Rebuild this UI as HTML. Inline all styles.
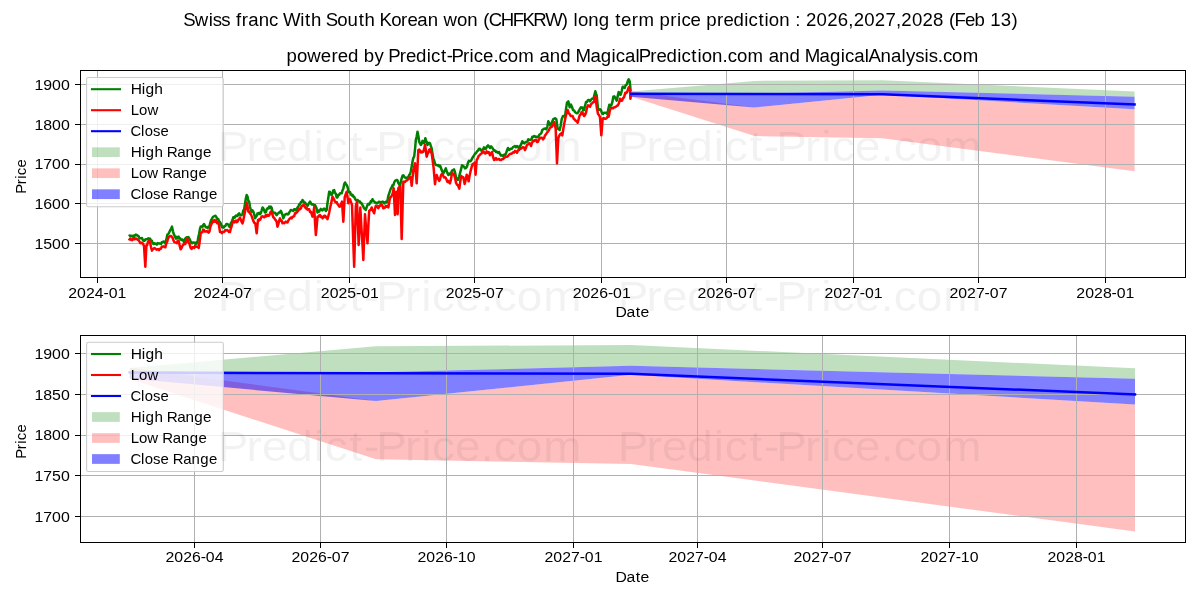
<!DOCTYPE html><html><head><meta charset="utf-8"><style>html,body{margin:0;padding:0;background:#fff;}svg{display:block;will-change:transform;}text{font-family:"Liberation Sans",sans-serif;}</style></head><body>
<svg width="1200" height="600" viewBox="0 0 1200 600">
<rect width="1200" height="600" fill="#fff"/>
<text transform="translate(184.21 25.70) scale(1.0534 1)" x="-0.87 10.12 23.20 27.06 35.29 43.88 49.18 54.72 60.84 70.70 80.55 89.36 93.81 110.19 114.65 120.30 130.28 134.37 145.20 155.05 165.61 171.26 181.24 185.50 196.50 205.76 211.91 221.26 231.12 241.09 246.15 258.91 268.76 278.73 283.84 289.01 300.47 311.94 321.18 331.36 342.71 358.36 364.44 369.64 373.73 383.57 393.60 403.58 409.19 414.70 424.78 431.32 446.15 451.22 461.46 467.88 471.97 480.68 490.51 495.58 505.82 511.96 521.49 531.65 535.74 545.15 550.93 555.02 564.86 574.84 580.01 585.19 590.27 600.33 610.38 620.44 630.44 635.52 645.58 655.63 665.69 675.69 680.77 690.83 700.88 710.94 720.94 726.04 731.22 741.11 750.13 760.11 765.20 775.25 785.34" y="0" font-size="17.67" fill="#000" >Swiss franc With South Korean won (CHFKRW) long term price prediction : 2026,2027,2028 (Feb 13)</text>
<text transform="translate(286.47 61.50) scale(1.0545 1)" x="0.10 9.94 19.77 32.54 42.62 48.75 58.27 68.25 73.31 83.49 92.63 96.47 107.42 113.28 122.80 132.95 137.03 146.43 151.89 156.55 167.50 173.64 177.72 186.43 196.25 201.14 209.81 219.89 234.99 239.88 249.72 259.73 269.71 274.13 288.22 298.07 308.23 312.31 320.99 330.97 334.00 344.95 350.81 360.33 370.48 374.56 383.96 389.74 393.81 403.65 413.62 418.50 427.18 437.26 452.36 457.25 467.09 477.10 487.08 491.50 505.59 515.44 525.59 529.67 538.36 548.34 552.00 563.39 573.23 583.21 587.62 596.40 605.16 609.02 617.60 622.49 631.16 641.24" y="0" font-size="17.67" fill="#000" >powered by Predict-Price.com and MagicalPrediction.com and MagicalAnalysis.com</text>
<polygon points="631.23,91.47 754.55,80.89 882.23,80.25 1134.57,91.62 1134.57,96.74 882.23,90.40 754.55,93.57 631.23,93.18" fill="#008000" fill-opacity="0.25"/>
<polygon points="631.23,91.32 754.55,107.56 882.23,94.79 1134.57,109.27 1134.57,171.21 882.23,138.29 754.55,136.00 631.23,96.79" fill="#ff0000" fill-opacity="0.25"/>
<polygon points="631.23,93.18 754.55,93.57 882.23,90.40 1134.57,96.74 1134.57,109.27 882.23,94.79 754.55,107.56 631.23,96.64" fill="#0000ff" fill-opacity="0.5"/>
<line x1="80" y1="243.5" x2="1186" y2="243.5" stroke="#b0b0b0" stroke-width="1.0"/>
<line x1="80" y1="203.5" x2="1186" y2="203.5" stroke="#b0b0b0" stroke-width="1.0"/>
<line x1="80" y1="164.5" x2="1186" y2="164.5" stroke="#b0b0b0" stroke-width="1.0"/>
<line x1="80" y1="124.5" x2="1186" y2="124.5" stroke="#b0b0b0" stroke-width="1.0"/>
<line x1="80" y1="84.5" x2="1186" y2="84.5" stroke="#b0b0b0" stroke-width="1.0"/>
<line x1="97.5" y1="70" x2="97.5" y2="278" stroke="#b0b0b0" stroke-width="1.0"/>
<line x1="222.5" y1="70" x2="222.5" y2="278" stroke="#b0b0b0" stroke-width="1.0"/>
<line x1="349.5" y1="70" x2="349.5" y2="278" stroke="#b0b0b0" stroke-width="1.0"/>
<line x1="474.5" y1="70" x2="474.5" y2="278" stroke="#b0b0b0" stroke-width="1.0"/>
<line x1="601.5" y1="70" x2="601.5" y2="278" stroke="#b0b0b0" stroke-width="1.0"/>
<line x1="726.5" y1="70" x2="726.5" y2="278" stroke="#b0b0b0" stroke-width="1.0"/>
<line x1="853.5" y1="70" x2="853.5" y2="278" stroke="#b0b0b0" stroke-width="1.0"/>
<line x1="978.5" y1="70" x2="978.5" y2="278" stroke="#b0b0b0" stroke-width="1.0"/>
<line x1="1105.5" y1="70" x2="1105.5" y2="278" stroke="#b0b0b0" stroke-width="1.0"/>
<polyline points="128.67,236.00 129.56,235.45 130.44,236.21 131.33,235.73 132.22,236.36 133.11,235.65 134.00,237.33 134.89,235.33 135.78,234.61 136.67,234.93 137.56,235.76 138.44,236.00 139.33,238.00 140.22,238.33 141.11,238.20 142.00,238.00 142.89,240.13 143.78,240.71 144.67,240.67 145.56,239.30 146.44,239.28 147.33,239.33 148.22,238.28 149.11,239.25 150.00,238.67 150.89,240.35 151.78,240.63 152.67,243.33 153.50,243.97 154.33,243.18 155.17,243.71 156.00,244.00 156.83,244.60 157.67,243.00 158.50,243.57 159.33,243.33 160.17,243.60 161.00,243.92 161.83,242.12 162.67,242.00 163.56,241.54 164.44,241.69 165.33,243.33 166.33,239.69 167.33,234.67 168.22,234.31 169.11,232.51 170.00,230.67 171.00,228.87 172.00,226.67 173.00,231.55 174.00,234.67 175.00,236.60 176.00,238.67 176.89,236.86 177.78,237.72 178.67,236.67 179.56,238.61 180.44,238.59 181.33,240.00 182.22,239.43 183.11,240.47 184.00,242.00 184.89,239.30 185.78,237.93 186.67,237.33 187.56,237.49 188.44,237.13 189.33,238.67 190.22,240.35 191.11,242.61 192.00,243.33 192.89,242.54 193.78,242.52 194.67,242.67 195.56,244.08 196.44,242.27 197.33,243.33 198.22,237.75 199.11,233.79 200.00,228.67 200.80,226.44 201.60,226.46 202.40,227.04 203.20,224.97 204.00,224.00 204.89,225.57 205.78,227.26 206.67,227.33 207.56,228.08 208.44,226.61 209.33,226.67 210.22,222.97 211.11,220.20 212.00,218.67 212.89,217.02 213.78,216.47 214.67,216.00 215.56,215.81 216.44,217.19 217.33,219.33 218.22,218.99 219.11,221.41 220.00,222.00 221.00,224.02 222.00,227.33 222.83,226.65 223.67,227.57 224.50,226.24 225.33,226.00 226.33,223.92 227.33,224.00 228.22,224.48 229.11,226.63 230.00,226.67 230.83,223.09 231.67,222.07 232.50,219.78 233.33,217.33 234.03,217.16 234.72,217.78 235.42,215.96 236.11,215.47 236.81,216.17 237.50,215.83 238.33,214.14 239.17,213.33 240.00,214.70 240.83,215.36 241.67,215.00 242.50,213.88 243.33,210.40 244.17,209.17 245.00,204.07 245.83,198.49 246.67,195.00 247.50,196.60 248.33,200.63 249.17,201.67 250.00,206.97 250.83,210.00 251.67,211.74 252.50,210.38 253.33,211.67 254.17,214.21 255.00,218.33 255.83,216.99 256.67,215.89 257.50,213.33 258.33,214.01 259.17,212.81 260.00,214.17 260.83,213.01 261.67,210.37 262.50,207.50 263.33,208.33 264.17,210.40 265.00,212.50 265.83,212.34 266.67,209.47 267.50,208.33 268.33,208.50 269.17,206.53 270.00,208.14 270.83,206.67 271.67,207.69 272.50,211.80 273.33,212.50 274.17,212.67 275.00,212.65 275.83,214.17 276.67,215.11 277.50,213.68 278.33,213.33 279.17,212.33 280.00,212.51 280.83,210.83 281.67,212.69 282.50,215.16 283.33,218.33 284.17,216.32 285.00,214.60 285.83,214.17 286.67,213.79 287.50,214.38 288.33,214.17 289.17,212.57 290.00,211.39 290.83,210.00 291.67,210.34 292.50,210.40 293.33,210.83 294.17,209.13 295.00,209.15 295.83,210.17 296.67,209.17 297.50,207.46 298.33,206.81 299.17,204.39 300.00,204.17 300.83,202.12 301.67,202.10 302.50,200.00 303.33,200.99 304.17,202.74 305.00,202.50 305.83,203.90 306.67,204.75 307.50,205.83 308.33,204.32 309.17,203.00 310.00,201.67 310.83,203.02 311.67,204.48 312.50,204.17 313.33,204.60 314.17,205.61 315.00,205.00 315.83,206.52 316.67,208.89 317.50,212.50 318.33,210.56 319.17,211.57 320.00,210.00 320.83,208.89 321.67,210.00 322.50,210.37 323.33,209.17 324.17,208.65 325.00,209.32 325.83,211.07 326.67,210.00 327.50,203.01 328.33,197.82 329.17,191.67 330.00,191.99 330.83,194.47 331.67,195.00 332.50,193.47 333.33,190.41 334.17,190.00 335.00,192.82 335.83,193.87 336.67,197.50 337.50,197.42 338.33,194.81 339.17,195.00 340.00,193.25 340.83,193.29 341.67,193.33 342.50,190.42 343.33,188.75 344.17,184.30 345.00,182.50 345.83,183.93 346.67,185.00 347.50,186.85 348.33,190.83 349.17,192.43 350.00,191.94 350.83,194.17 351.67,195.35 352.50,194.75 353.33,196.67 354.17,196.65 355.00,198.77 355.83,200.00 356.67,200.42 357.50,199.95 358.33,200.83 359.17,201.74 360.00,201.48 360.83,203.33 361.67,203.28 362.50,205.07 363.33,206.67 364.17,208.45 365.00,208.89 365.83,210.00 366.67,207.10 367.50,205.00 368.33,203.80 369.17,204.49 370.00,203.33 370.83,201.14 371.67,201.69 372.50,199.17 373.33,201.11 374.17,201.38 375.00,202.50 375.83,202.50 376.67,203.54 377.50,203.33 378.33,202.09 379.17,201.67 380.00,202.48 380.83,201.97 381.67,202.50 382.50,201.62 383.33,201.94 384.17,203.33 385.00,202.42 385.83,201.70 386.67,202.50 387.50,200.41 388.33,195.82 389.17,193.33 390.00,190.85 390.83,188.55 391.67,187.50 392.50,185.22 393.33,185.40 394.17,182.50 395.00,181.00 395.83,180.34 396.67,180.00 397.50,180.37 398.33,183.27 399.17,184.22 400.00,186.67 400.83,181.77 401.67,178.38 402.50,175.83 403.33,175.20 404.17,176.44 405.00,177.50 405.83,177.72 406.67,178.15 407.50,177.50 408.33,176.95 409.17,174.99 410.00,174.17 410.83,171.26 411.67,166.42 412.50,161.67 413.33,157.98 414.17,156.67 415.00,149.35 415.83,140.00 416.67,136.44 417.50,131.67 418.33,135.73 419.17,141.67 420.00,143.34 420.83,145.00 421.67,143.71 422.50,140.83 423.33,142.30 424.17,143.33 425.33,138.33 426.06,141.03 426.78,142.08 427.50,145.00 428.33,143.49 429.17,142.86 430.00,143.33 430.83,145.99 431.67,148.33 432.50,153.66 433.33,158.33 434.17,160.53 435.00,163.55 435.83,165.00 436.67,165.01 437.50,165.41 438.33,165.00 439.17,166.45 440.00,165.56 440.83,167.50 441.67,170.04 442.50,172.01 443.33,173.33 444.17,171.65 445.00,169.95 445.83,168.33 446.67,171.25 447.50,173.15 448.33,175.00 449.17,173.53 450.00,174.52 450.83,173.33 452.00,170.67 453.00,170.18 454.00,169.33 455.00,172.19 456.00,177.33 457.00,179.11 458.00,180.00 459.00,177.12 460.00,173.33 461.00,169.38 462.00,165.33 463.00,165.91 464.00,166.67 465.00,168.36 466.00,168.00 467.00,166.58 468.00,162.67 469.00,160.75 470.00,161.33 471.00,160.83 472.00,158.67 473.00,156.87 474.00,155.33 475.00,153.58 476.00,153.33 477.00,151.25 478.00,150.67 479.00,148.74 480.00,148.67 481.00,150.51 482.00,150.00 483.00,149.50 484.00,147.33 485.00,149.01 486.00,148.67 487.00,146.30 488.00,145.33 489.00,146.63 490.00,148.00 491.00,146.38 492.00,147.33 493.00,148.87 494.00,150.67 495.00,150.40 496.00,152.00 497.00,151.86 498.00,152.67 499.00,152.04 500.00,154.00 501.00,155.55 502.00,155.33 503.00,156.11 504.00,154.67 505.00,155.04 506.00,153.33 507.00,150.33 508.00,148.00 509.00,149.96 510.00,149.33 511.00,148.64 512.00,148.67 513.00,147.08 514.00,146.67 515.00,145.96 516.00,147.33 517.00,146.00 518.00,146.78 519.00,148.67 520.00,146.01 521.00,144.67 522.33,141.33 523.33,142.36 524.33,143.33 525.33,142.34 526.33,142.00 527.33,141.67 528.33,139.33 529.33,140.01 530.33,140.00 531.33,139.48 532.33,136.67 533.33,136.90 534.33,136.00 535.33,136.94 536.33,136.67 537.33,137.32 538.33,136.67 539.33,134.78 540.33,134.00 541.33,133.11 542.33,130.00 543.33,129.26 544.33,128.67 545.33,128.47 546.33,129.33 547.33,126.57 548.33,121.33 549.33,123.74 550.33,125.33 551.33,123.48 552.33,121.33 553.33,119.14 554.33,118.67 555.33,118.24 556.33,119.33 557.67,128.67 558.67,129.33 559.67,130.00 560.67,125.72 561.67,119.33 563.00,116.00 564.00,116.20 565.00,116.67 566.00,108.87 567.00,102.67 568.33,101.33 569.67,107.33 571.00,104.67 572.00,106.92 573.00,110.00 574.00,110.32 575.00,112.00 576.00,112.85 577.00,113.33 578.00,112.65 579.00,110.67 580.00,108.78 581.00,107.33 581.75,107.68 582.50,107.53 583.25,110.55 584.00,110.00 585.00,106.01 586.00,102.00 587.00,101.94 588.00,100.00 589.00,100.07 590.00,101.33 591.00,99.74 592.00,98.67 593.00,98.85 594.00,96.67 595.33,91.33 596.67,95.33 598.00,108.67 599.00,109.97 600.00,109.33 601.00,110.12 602.00,113.33 603.00,114.03 604.00,112.67 605.00,112.89 606.00,112.67 607.33,114.00 608.33,109.05 609.33,104.67 610.33,105.85 611.33,105.33 612.33,102.23 613.33,96.67 614.33,96.32 615.33,98.00 616.67,100.67 617.67,96.39 618.67,92.00 619.67,94.48 620.67,94.67 621.67,91.05 622.67,86.67 623.67,87.22 624.67,88.00 625.67,85.14 626.67,84.67 627.67,81.30 628.67,79.33 629.73,81.33 630.67,91.33" fill="none" stroke="#008000" stroke-width="2.5" stroke-linejoin="round" stroke-linecap="butt"/>
<polyline points="128.67,238.67 129.56,239.49 130.44,238.59 131.33,240.00 132.22,240.13 133.11,238.55 134.00,239.33 134.89,239.17 135.78,238.60 136.67,238.67 137.56,239.82 138.44,239.93 139.33,241.33 140.22,242.97 141.11,243.22 142.00,242.67 143.00,243.64 144.00,246.00 145.33,266.67 146.40,245.33 147.13,245.20 147.87,242.17 148.60,241.33 149.33,240.00 150.22,243.35 151.11,247.55 152.00,250.67 152.89,249.07 153.78,248.47 154.67,248.00 155.56,248.92 156.44,249.66 157.33,249.33 158.22,249.12 159.11,250.11 160.00,248.67 160.89,248.83 161.78,246.61 162.67,246.67 163.56,246.36 164.44,247.10 165.33,247.33 166.22,243.73 167.11,241.99 168.00,238.67 168.89,236.86 169.78,236.14 170.67,236.00 171.56,236.40 172.44,237.52 173.33,240.00 174.22,241.92 175.11,242.38 176.00,242.67 176.89,243.12 177.78,240.52 178.67,240.67 179.67,245.64 180.67,249.33 181.67,247.76 182.67,245.33 183.56,244.56 184.44,243.58 185.33,244.00 186.33,240.76 187.33,238.67 188.33,242.18 189.33,243.33 190.67,248.00 191.56,248.98 192.44,247.18 193.33,247.33 194.22,247.95 195.11,245.72 196.00,246.67 196.89,246.78 197.78,246.76 198.67,248.00 199.67,241.70 200.67,233.33 201.50,232.27 202.33,232.36 203.17,229.62 204.00,230.00 204.89,231.54 205.78,231.53 206.67,231.33 207.67,231.58 208.67,232.67 209.50,231.36 210.33,227.05 211.17,224.69 212.00,222.67 212.89,220.49 213.78,221.97 214.67,220.00 215.47,221.82 216.27,220.64 217.07,223.19 217.87,222.37 218.67,223.33 220.00,232.00 220.89,231.82 221.78,233.11 222.67,232.00 223.56,232.12 224.44,231.51 225.33,230.00 226.22,230.50 227.11,229.98 228.00,230.67 229.00,232.07 230.00,232.00 230.83,228.55 231.67,226.01 232.50,222.79 233.33,221.33 234.03,220.94 234.72,222.44 235.42,220.89 236.11,220.51 236.81,222.16 237.50,221.67 238.33,219.59 239.17,219.20 240.00,217.50 240.83,220.09 241.67,221.82 242.50,223.33 243.33,220.33 244.17,215.73 245.00,211.67 245.83,207.70 246.67,202.50 247.50,206.43 248.33,211.67 249.17,211.60 250.00,213.54 250.83,214.17 251.67,216.12 252.50,218.63 253.33,220.83 254.33,222.89 255.33,223.33 256.67,233.33 258.00,220.00 258.71,220.86 259.42,219.10 260.12,219.64 260.83,218.33 261.67,216.58 262.50,216.23 263.33,216.67 264.17,217.34 265.00,216.67 265.83,215.00 266.67,216.23 267.50,214.93 268.33,215.83 269.17,215.60 270.00,213.31 270.83,211.67 271.67,212.88 272.50,214.62 273.33,217.50 274.17,217.70 275.00,219.56 275.83,220.00 276.67,222.06 277.50,226.67 278.33,224.35 279.17,220.62 280.00,218.33 280.83,220.77 281.67,220.53 282.50,223.33 283.33,222.78 284.17,223.14 285.00,222.50 285.83,221.63 286.67,222.27 287.50,222.50 288.33,220.61 289.17,219.23 290.00,218.33 290.83,217.55 291.67,218.45 292.50,216.73 293.33,216.67 294.17,216.22 295.00,213.30 295.83,213.34 296.67,212.50 297.50,211.42 298.33,210.73 299.17,208.74 300.00,209.17 300.83,208.49 301.67,206.01 302.50,205.71 303.33,205.00 304.17,205.19 305.00,207.28 305.83,208.33 306.67,207.59 307.50,209.68 308.33,209.17 309.17,209.21 310.00,211.99 310.83,211.67 311.67,214.12 312.50,216.67 313.33,213.19 314.17,207.50 315.00,222.30 315.83,235.00 316.67,226.68 317.50,216.67 318.33,216.85 319.17,215.31 320.00,215.00 320.83,216.97 321.67,216.49 322.50,218.33 323.33,217.55 324.17,215.69 325.00,215.83 325.83,217.53 326.67,216.86 327.50,219.17 328.33,216.22 329.17,212.82 330.00,208.33 330.83,204.70 331.67,200.89 332.50,196.67 333.33,198.13 334.17,199.81 335.00,201.67 335.83,202.36 336.67,202.09 337.50,204.14 338.33,205.00 339.17,206.52 340.00,206.67 341.00,204.06 342.00,201.67 343.33,221.67 344.67,197.50 345.67,194.51 346.67,191.67 347.50,196.53 348.33,203.33 349.17,200.19 350.00,199.17 351.00,202.11 352.00,205.00 352.72,225.91 353.44,246.72 354.17,266.67 355.00,236.28 355.83,205.83 357.00,201.67 357.83,223.34 358.67,245.00 359.50,227.42 360.33,207.50 361.08,221.55 361.83,234.35 362.58,246.08 363.33,260.00 364.17,237.06 365.00,214.17 365.83,224.97 366.67,234.36 367.50,243.33 368.33,225.95 369.17,210.83 370.00,210.39 370.83,209.64 371.67,207.50 372.50,210.27 373.33,211.39 374.17,213.33 375.00,208.82 375.83,205.83 376.67,206.68 377.50,206.30 378.33,208.33 379.17,206.06 380.00,206.02 380.83,204.17 381.67,204.69 382.50,205.94 383.33,208.33 384.17,207.85 385.00,207.64 385.83,205.83 386.67,206.60 387.50,205.92 388.33,207.50 389.17,202.84 390.00,197.50 391.00,197.02 392.00,195.00 392.83,192.94 393.67,188.33 395.00,215.00 396.33,191.67 397.67,214.17 398.33,188.33 399.33,187.14 400.33,186.67 401.67,239.00 402.50,210.18 403.33,181.67 404.17,182.02 405.00,181.94 405.83,180.83 406.67,180.64 407.50,179.95 408.33,179.17 409.17,178.12 410.00,176.84 410.83,177.50 411.67,185.83 412.50,178.22 413.33,170.00 414.17,166.70 415.00,163.33 415.83,172.38 416.67,183.33 417.50,167.06 418.33,150.00 419.17,149.54 420.00,150.64 420.83,152.50 421.67,151.51 422.50,152.18 423.33,151.67 424.17,148.66 425.00,145.00 425.83,149.88 426.67,156.67 427.50,153.92 428.33,152.50 429.17,149.78 430.00,149.17 430.83,152.22 431.67,153.33 432.67,160.58 433.67,168.33 435.00,184.17 435.83,178.31 436.67,175.00 437.50,177.11 438.33,179.27 439.17,180.83 440.00,179.75 440.83,175.73 441.67,174.17 442.50,174.09 443.33,176.14 444.17,177.50 445.00,177.19 445.83,177.90 446.67,180.00 447.50,181.98 448.33,180.89 449.17,182.52 450.00,183.33 451.00,179.15 452.00,173.33 453.00,173.50 454.00,174.67 455.00,177.49 456.00,182.67 457.00,184.74 458.00,185.33 459.33,188.67 460.33,181.05 461.33,176.00 462.33,177.30 463.33,177.33 464.67,184.00 465.67,179.96 466.67,174.67 467.67,177.29 468.67,181.33 469.67,175.30 470.67,170.67 471.67,166.91 472.67,164.00 473.67,163.84 474.67,162.67 475.60,174.67 476.67,160.00 477.67,158.55 478.67,156.00 479.67,155.14 480.67,154.00 481.67,153.42 482.67,151.33 483.67,151.72 484.67,153.33 485.67,153.54 486.67,151.33 487.67,152.65 488.67,152.00 490.00,155.33 491.00,153.04 492.00,152.00 493.00,156.63 494.00,160.00 495.00,159.64 496.00,158.00 497.00,159.66 498.00,159.33 499.00,158.99 500.00,160.00 501.00,160.01 502.00,159.33 503.00,159.10 504.00,158.00 505.00,157.25 506.00,156.67 507.00,156.85 508.00,156.00 509.00,154.84 510.00,154.00 511.00,153.85 512.00,153.33 513.00,152.25 514.00,152.67 515.00,150.90 516.00,151.33 517.00,152.67 518.00,150.41 519.00,150.00 520.00,148.31 521.00,148.67 522.00,147.60 523.00,147.33 524.00,147.44 525.00,150.00 526.00,147.83 527.00,144.67 528.00,144.51 529.00,143.33 530.00,143.54 531.00,146.00 532.00,142.98 533.00,140.67 534.00,141.16 535.00,140.00 536.00,139.87 537.00,142.00 538.00,141.74 539.00,139.33 540.00,137.65 541.00,138.00 542.00,137.66 543.00,139.33 544.00,138.24 545.00,135.33 546.00,134.35 547.00,132.67 548.00,131.68 549.00,130.00 550.00,127.63 551.00,127.33 552.00,126.67 553.00,124.67 554.33,122.00 555.67,128.67 557.00,163.33 558.33,138.00 559.33,135.53 560.33,134.00 561.33,133.42 562.33,135.33 563.33,128.77 564.33,123.33 565.33,118.32 566.33,114.00 567.67,110.00 568.67,113.21 569.67,114.00 570.67,115.91 571.67,116.00 572.67,116.11 573.67,118.67 574.67,119.50 575.67,120.67 576.67,121.27 577.67,122.67 578.67,119.10 579.67,115.33 580.67,114.61 581.67,112.00 582.44,114.16 583.22,113.37 584.00,116.00 585.00,115.02 586.00,112.67 587.00,107.71 588.00,105.33 589.00,105.98 590.00,106.67 591.00,104.18 592.00,103.33 593.00,102.27 594.00,102.00 595.33,96.00 596.67,106.67 598.00,114.00 599.00,115.04 600.00,117.33 601.33,135.33 602.67,118.67 603.67,118.10 604.67,118.67 605.67,118.85 606.67,118.00 607.67,116.32 608.67,116.67 610.00,110.00 611.00,107.91 612.00,108.00 613.00,108.18 614.00,107.33 615.00,107.33 616.00,106.67 617.00,105.74 618.00,105.33 619.00,103.02 620.00,98.67 621.00,100.68 622.00,100.67 623.00,98.24 624.00,97.33 625.33,92.67 626.33,93.04 627.33,91.33 628.67,87.33 630.00,90.00 630.40,98.67 631.33,93.33" fill="none" stroke="#ff0000" stroke-width="2.5" stroke-linejoin="round" stroke-linecap="butt"/>
<polyline points="631.23,93.66 754.55,94.05 882.23,94.27 1134.57,104.39" fill="none" stroke="#0000ff" stroke-width="2.5" stroke-linejoin="round" stroke-linecap="square"/>
<rect x="80.5" y="70.5" width="1105" height="207" fill="none" stroke="#000" stroke-width="1.0"/>
<line x1="75" y1="243.5" x2="80" y2="243.5" stroke="#000" stroke-width="1.0"/>
<text transform="translate(34.42 248.80) scale(1.0817 1)" x="0.00 8.18 16.35 24.53" y="0" font-size="14.72" fill="#000" >1500</text>
<line x1="75" y1="203.5" x2="80" y2="203.5" stroke="#000" stroke-width="1.0"/>
<text transform="translate(34.42 209.05) scale(1.0817 1)" x="0.00 8.18 16.35 24.53" y="0" font-size="14.72" fill="#000" >1600</text>
<line x1="75" y1="164.5" x2="80" y2="164.5" stroke="#000" stroke-width="1.0"/>
<text transform="translate(34.42 169.30) scale(1.0817 1)" x="0.00 8.18 16.35 24.53" y="0" font-size="14.72" fill="#000" >1700</text>
<line x1="75" y1="124.5" x2="80" y2="124.5" stroke="#000" stroke-width="1.0"/>
<text transform="translate(34.42 129.55) scale(1.0817 1)" x="0.00 8.18 16.35 24.53" y="0" font-size="14.72" fill="#000" >1800</text>
<line x1="75" y1="84.5" x2="80" y2="84.5" stroke="#000" stroke-width="1.0"/>
<text transform="translate(34.42 89.80) scale(1.0817 1)" x="0.00 8.18 16.35 24.53" y="0" font-size="14.72" fill="#000" >1900</text>
<line x1="97.5" y1="278" x2="97.5" y2="283" stroke="#000" stroke-width="1.0"/>
<text transform="translate(68.26 297.70) scale(1.0765 1)" x="0.02 8.23 16.45 24.67 32.74 37.54 45.75" y="0" font-size="14.72" fill="#000" >2024-01</text>
<line x1="222.5" y1="278" x2="222.5" y2="283" stroke="#000" stroke-width="1.0"/>
<text transform="translate(193.84 297.70) scale(1.0765 1)" x="0.02 8.23 16.45 24.67 32.74 37.54 45.75" y="0" font-size="14.72" fill="#000" >2024-07</text>
<line x1="349.5" y1="278" x2="349.5" y2="283" stroke="#000" stroke-width="1.0"/>
<text transform="translate(320.80 297.70) scale(1.0765 1)" x="0.02 8.23 16.45 24.67 32.74 37.54 45.75" y="0" font-size="14.72" fill="#000" >2025-01</text>
<line x1="474.5" y1="278" x2="474.5" y2="283" stroke="#000" stroke-width="1.0"/>
<text transform="translate(445.69 297.70) scale(1.0765 1)" x="0.02 8.23 16.45 24.67 32.74 37.54 45.75" y="0" font-size="14.72" fill="#000" >2025-07</text>
<line x1="601.5" y1="278" x2="601.5" y2="283" stroke="#000" stroke-width="1.0"/>
<text transform="translate(572.65 297.70) scale(1.0765 1)" x="0.02 8.23 16.45 24.67 32.74 37.54 45.75" y="0" font-size="14.72" fill="#000" >2026-01</text>
<line x1="726.5" y1="278" x2="726.5" y2="283" stroke="#000" stroke-width="1.0"/>
<text transform="translate(697.54 297.70) scale(1.0765 1)" x="0.02 8.23 16.45 24.67 32.74 37.54 45.75" y="0" font-size="14.72" fill="#000" >2026-07</text>
<line x1="853.5" y1="278" x2="853.5" y2="283" stroke="#000" stroke-width="1.0"/>
<text transform="translate(824.50 297.70) scale(1.0765 1)" x="0.02 8.23 16.45 24.67 32.74 37.54 45.75" y="0" font-size="14.72" fill="#000" >2027-01</text>
<line x1="978.5" y1="278" x2="978.5" y2="283" stroke="#000" stroke-width="1.0"/>
<text transform="translate(949.39 297.70) scale(1.0765 1)" x="0.02 8.23 16.45 24.67 32.74 37.54 45.75" y="0" font-size="14.72" fill="#000" >2027-07</text>
<line x1="1105.5" y1="278" x2="1105.5" y2="283" stroke="#000" stroke-width="1.0"/>
<text transform="translate(1076.35 297.70) scale(1.0765 1)" x="0.02 8.23 16.45 24.67 32.74 37.54 45.75" y="0" font-size="14.72" fill="#000" >2028-01</text>
<text transform="translate(615.89 316.90) scale(1.0699 1)" x="-0.31 9.90 18.47 22.97" y="0" font-size="14.72" fill="#000" >Date</text>
<text transform="translate(25.90 176.00) rotate(-90) translate(-16.95 0) scale(1.0124 1)" x="-0.76 8.65 13.96 17.60 25.18" y="0" font-size="14.72" fill="#000" >Price</text>
<rect x="86.6" y="77.50" width="136.7" height="129.2" rx="1.8" ry="1.8" fill="#fff" fill-opacity="0.8" stroke="#cccccc" stroke-opacity="1" stroke-width="1.11"/>
<line x1="92" y1="89.20" x2="120" y2="89.20" stroke="#008000" stroke-width="2.08" stroke-linecap="square"/>
<text transform="translate(131.10 94.20) scale(1.0567 1)" x="-0.36 10.09 13.63 21.98" y="0" font-size="14.72" fill="#000" >High</text>
<line x1="92" y1="110.20" x2="120" y2="110.20" stroke="#ff0000" stroke-width="2.08" stroke-linecap="square"/>
<text transform="translate(131.10 115.20) scale(1.0150 1)" x="-0.27 7.73 16.06" y="0" font-size="14.72" fill="#000" >Low</text>
<line x1="92" y1="131.20" x2="120" y2="131.20" stroke="#0000ff" stroke-width="2.08" stroke-linecap="square"/>
<text transform="translate(131.10 136.20) scale(1.0075 1)" x="-0.49 9.92 13.60 21.83 29.25" y="0" font-size="14.72" fill="#000" >Close</text>
<rect x="92" y="147.35" width="27.8" height="9.7" fill="#008000" fill-opacity="0.25"/>
<text transform="translate(131.10 157.20) scale(1.0359 1)" x="-0.26 10.32 13.99 22.50 30.93 34.46 44.45 52.52 61.03 69.42" y="0" font-size="14.72" fill="#000" >High Range</text>
<rect x="92" y="168.35" width="27.8" height="9.7" fill="#ff0000" fill-opacity="0.25"/>
<text transform="translate(131.10 178.20) scale(1.0198 1)" x="-0.29 7.67 15.96 26.96 30.60 40.73 48.93 57.57 66.09" y="0" font-size="14.72" fill="#000" >Low Range</text>
<rect x="92" y="189.35" width="27.8" height="9.7" fill="#0000ff" fill-opacity="0.5"/>
<text transform="translate(131.10 199.20) scale(1.0159 1)" x="-0.53 9.82 13.45 21.61 28.98 37.40 41.07 51.23 59.46 68.14 76.69" y="0" font-size="14.72" fill="#000" >Close Range</text>
<polygon points="129.70,368.00 376.00,346.30 631.00,345.00 1135.00,368.30 1135.00,378.80 631.00,365.80 376.00,372.30 129.70,371.50" fill="#008000" fill-opacity="0.25"/>
<polygon points="129.70,367.70 376.00,401.00 631.00,374.80 1135.00,404.50 1135.00,531.50 631.00,464.00 376.00,459.30 129.70,378.90" fill="#ff0000" fill-opacity="0.25"/>
<polygon points="129.70,371.50 376.00,372.30 631.00,365.80 1135.00,378.80 1135.00,404.50 631.00,374.80 376.00,401.00 129.70,378.60" fill="#0000ff" fill-opacity="0.5"/>
<line x1="80" y1="516.5" x2="1186" y2="516.5" stroke="#b0b0b0" stroke-width="1.0"/>
<line x1="80" y1="475.5" x2="1186" y2="475.5" stroke="#b0b0b0" stroke-width="1.0"/>
<line x1="80" y1="435.5" x2="1186" y2="435.5" stroke="#b0b0b0" stroke-width="1.0"/>
<line x1="80" y1="394.5" x2="1186" y2="394.5" stroke="#b0b0b0" stroke-width="1.0"/>
<line x1="80" y1="353.5" x2="1186" y2="353.5" stroke="#b0b0b0" stroke-width="1.0"/>
<line x1="194.5" y1="335" x2="194.5" y2="543" stroke="#b0b0b0" stroke-width="1.0"/>
<line x1="320.5" y1="335" x2="320.5" y2="543" stroke="#b0b0b0" stroke-width="1.0"/>
<line x1="446.5" y1="335" x2="446.5" y2="543" stroke="#b0b0b0" stroke-width="1.0"/>
<line x1="573.5" y1="335" x2="573.5" y2="543" stroke="#b0b0b0" stroke-width="1.0"/>
<line x1="697.5" y1="335" x2="697.5" y2="543" stroke="#b0b0b0" stroke-width="1.0"/>
<line x1="822.5" y1="335" x2="822.5" y2="543" stroke="#b0b0b0" stroke-width="1.0"/>
<line x1="949.5" y1="335" x2="949.5" y2="543" stroke="#b0b0b0" stroke-width="1.0"/>
<line x1="1076.5" y1="335" x2="1076.5" y2="543" stroke="#b0b0b0" stroke-width="1.0"/>
<polyline points="129.70,372.50 376.00,373.30 631.00,373.75 1135.00,394.50" fill="none" stroke="#0000ff" stroke-width="2.5" stroke-linejoin="round" stroke-linecap="square"/>
<rect x="80.5" y="335.5" width="1105" height="207" fill="none" stroke="#000" stroke-width="1.0"/>
<line x1="75" y1="516.5" x2="80" y2="516.5" stroke="#000" stroke-width="1.0"/>
<text transform="translate(34.42 521.80) scale(1.0817 1)" x="0.00 8.18 16.35 24.53" y="0" font-size="14.72" fill="#000" >1700</text>
<line x1="75" y1="475.5" x2="80" y2="475.5" stroke="#000" stroke-width="1.0"/>
<text transform="translate(34.42 481.05) scale(1.0817 1)" x="0.00 8.18 16.35 24.53" y="0" font-size="14.72" fill="#000" >1750</text>
<line x1="75" y1="435.5" x2="80" y2="435.5" stroke="#000" stroke-width="1.0"/>
<text transform="translate(34.42 440.30) scale(1.0817 1)" x="0.00 8.18 16.35 24.53" y="0" font-size="14.72" fill="#000" >1800</text>
<line x1="75" y1="394.5" x2="80" y2="394.5" stroke="#000" stroke-width="1.0"/>
<text transform="translate(34.42 399.55) scale(1.0817 1)" x="0.00 8.18 16.35 24.53" y="0" font-size="14.72" fill="#000" >1850</text>
<line x1="75" y1="353.5" x2="80" y2="353.5" stroke="#000" stroke-width="1.0"/>
<text transform="translate(34.42 358.80) scale(1.0817 1)" x="0.00 8.18 16.35 24.53" y="0" font-size="14.72" fill="#000" >1900</text>
<line x1="194.5" y1="543" x2="194.5" y2="548" stroke="#000" stroke-width="1.0"/>
<text transform="translate(165.46 561.80) scale(1.0765 1)" x="0.02 8.23 16.45 24.67 32.74 37.54 45.75" y="0" font-size="14.72" fill="#000" >2026-04</text>
<line x1="320.5" y1="543" x2="320.5" y2="548" stroke="#000" stroke-width="1.0"/>
<text transform="translate(291.46 561.80) scale(1.0765 1)" x="0.02 8.23 16.45 24.67 32.74 37.54 45.75" y="0" font-size="14.72" fill="#000" >2026-07</text>
<line x1="446.5" y1="543" x2="446.5" y2="548" stroke="#000" stroke-width="1.0"/>
<text transform="translate(417.46 561.80) scale(1.0765 1)" x="0.02 8.23 16.45 24.67 32.74 37.54 45.75" y="0" font-size="14.72" fill="#000" >2026-10</text>
<line x1="573.5" y1="543" x2="573.5" y2="548" stroke="#000" stroke-width="1.0"/>
<text transform="translate(544.46 561.80) scale(1.0765 1)" x="0.02 8.23 16.45 24.67 32.74 37.54 45.75" y="0" font-size="14.72" fill="#000" >2027-01</text>
<line x1="697.5" y1="543" x2="697.5" y2="548" stroke="#000" stroke-width="1.0"/>
<text transform="translate(668.46 561.80) scale(1.0765 1)" x="0.02 8.23 16.45 24.67 32.74 37.54 45.75" y="0" font-size="14.72" fill="#000" >2027-04</text>
<line x1="822.5" y1="543" x2="822.5" y2="548" stroke="#000" stroke-width="1.0"/>
<text transform="translate(793.46 561.80) scale(1.0765 1)" x="0.02 8.23 16.45 24.67 32.74 37.54 45.75" y="0" font-size="14.72" fill="#000" >2027-07</text>
<line x1="949.5" y1="543" x2="949.5" y2="548" stroke="#000" stroke-width="1.0"/>
<text transform="translate(920.46 561.80) scale(1.0765 1)" x="0.02 8.23 16.45 24.67 32.74 37.54 45.75" y="0" font-size="14.72" fill="#000" >2027-10</text>
<line x1="1076.5" y1="543" x2="1076.5" y2="548" stroke="#000" stroke-width="1.0"/>
<text transform="translate(1047.46 561.80) scale(1.0765 1)" x="0.02 8.23 16.45 24.67 32.74 37.54 45.75" y="0" font-size="14.72" fill="#000" >2028-01</text>
<text transform="translate(615.89 581.90) scale(1.0699 1)" x="-0.31 9.90 18.47 22.97" y="0" font-size="14.72" fill="#000" >Date</text>
<text transform="translate(25.90 441.00) rotate(-90) translate(-16.95 0) scale(1.0124 1)" x="-0.76 8.65 13.96 17.60 25.18" y="0" font-size="14.72" fill="#000" >Price</text>
<rect x="86.6" y="342.30" width="136.7" height="129.2" rx="1.8" ry="1.8" fill="#fff" fill-opacity="0.8" stroke="#cccccc" stroke-opacity="1" stroke-width="1.11"/>
<line x1="92" y1="354.00" x2="120" y2="354.00" stroke="#008000" stroke-width="2.08" stroke-linecap="square"/>
<text transform="translate(131.10 359.00) scale(1.0567 1)" x="-0.36 10.09 13.63 21.98" y="0" font-size="14.72" fill="#000" >High</text>
<line x1="92" y1="375.00" x2="120" y2="375.00" stroke="#ff0000" stroke-width="2.08" stroke-linecap="square"/>
<text transform="translate(131.10 380.00) scale(1.0150 1)" x="-0.27 7.73 16.06" y="0" font-size="14.72" fill="#000" >Low</text>
<line x1="92" y1="396.00" x2="120" y2="396.00" stroke="#0000ff" stroke-width="2.08" stroke-linecap="square"/>
<text transform="translate(131.10 401.00) scale(1.0075 1)" x="-0.49 9.92 13.60 21.83 29.25" y="0" font-size="14.72" fill="#000" >Close</text>
<rect x="92" y="412.15" width="27.8" height="9.7" fill="#008000" fill-opacity="0.25"/>
<text transform="translate(131.10 422.00) scale(1.0359 1)" x="-0.26 10.32 13.99 22.50 30.93 34.46 44.45 52.52 61.03 69.42" y="0" font-size="14.72" fill="#000" >High Range</text>
<rect x="92" y="433.15" width="27.8" height="9.7" fill="#ff0000" fill-opacity="0.25"/>
<text transform="translate(131.10 443.00) scale(1.0198 1)" x="-0.29 7.67 15.96 26.96 30.60 40.73 48.93 57.57 66.09" y="0" font-size="14.72" fill="#000" >Low Range</text>
<rect x="92" y="454.15" width="27.8" height="9.7" fill="#0000ff" fill-opacity="0.5"/>
<text transform="translate(131.10 464.00) scale(1.0159 1)" x="-0.53 9.82 13.45 21.61 28.98 37.40 41.07 51.23 59.46 68.14 76.69" y="0" font-size="14.72" fill="#000" >Close Range</text>
<text transform="translate(220.50 161.00) scale(1.0803 1)" x="-2.55 24.10 38.46 61.71 86.40 96.45 119.33 132.67 144.16 170.80 185.76 195.81 217.08 240.98 252.99 274.18 298.87" y="0" font-size="42.50" fill="#000" fill-opacity="0.05">Predict-Price.com</text>
<text transform="translate(620.50 161.00) scale(1.0803 1)" x="-2.55 24.10 38.46 61.71 86.40 96.45 119.33 132.67 144.16 170.80 185.76 195.81 217.08 240.98 252.99 274.18 298.87" y="0" font-size="42.50" fill="#000" fill-opacity="0.05">Predict-Price.com</text>
<text transform="translate(220.50 311.00) scale(1.0803 1)" x="-2.55 24.10 38.46 61.71 86.40 96.45 119.33 132.67 144.16 170.80 185.76 195.81 217.08 240.98 252.99 274.18 298.87" y="0" font-size="42.50" fill="#000" fill-opacity="0.05">Predict-Price.com</text>
<text transform="translate(620.50 311.00) scale(1.0803 1)" x="-2.55 24.10 38.46 61.71 86.40 96.45 119.33 132.67 144.16 170.80 185.76 195.81 217.08 240.98 252.99 274.18 298.87" y="0" font-size="42.50" fill="#000" fill-opacity="0.05">Predict-Price.com</text>
<text transform="translate(220.50 461.00) scale(1.0803 1)" x="-2.55 24.10 38.46 61.71 86.40 96.45 119.33 132.67 144.16 170.80 185.76 195.81 217.08 240.98 252.99 274.18 298.87" y="0" font-size="42.50" fill="#000" fill-opacity="0.05">Predict-Price.com</text>
<text transform="translate(620.50 461.00) scale(1.0803 1)" x="-2.55 24.10 38.46 61.71 86.40 96.45 119.33 132.67 144.16 170.80 185.76 195.81 217.08 240.98 252.99 274.18 298.87" y="0" font-size="42.50" fill="#000" fill-opacity="0.05">Predict-Price.com</text>
</svg></body></html>
